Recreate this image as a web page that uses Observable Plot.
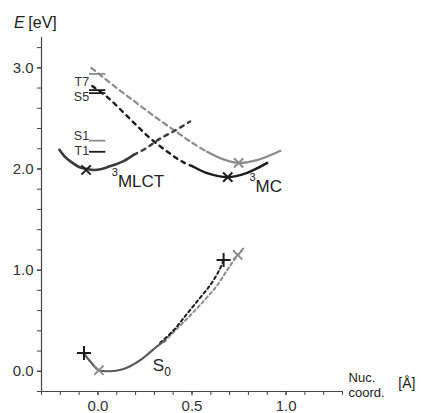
<!DOCTYPE html>
<html>
<head>
<meta charset="utf-8">
<script src="https://cdn.jsdelivr.net/npm/d3@7"></script>
<script src="https://cdn.jsdelivr.net/npm/@observablehq/plot@0.6"></script>
<style>
  html, body { margin: 0; padding: 0; background: #fff; }
  #chart { width: 421px; height: 413px; }
</style>
</head>
<body>
<div id="chart"></div>
<script>
// ---- data (x: nuclear coordinate in Å, y: energy in eV) ----
const yMajorTicks = [0, 1, 2, 3];
const yMinorTicks = [-0.2, 0, 0.2, 0.4, 0.6, 0.8, 1, 1.2, 1.4, 1.6, 1.8, 2, 2.2, 2.4, 2.6, 2.8, 3, 3.2];
const xMajorTicks = [0, 0.5, 1];
const xMinorTicks = [-0.3, -0.2, -0.1, 0, 0.1, 0.2, 0.3, 0.4, 0.5, 0.6, 0.7, 0.8, 0.9, 1, 1.1, 1.2, 1.3];

// 3MLCT surface
const mlctSolidX = [-0.205, -0.175, -0.143, -0.1, -0.06, -0.02, 0.02, 0.053, 0.1, 0.138, 0.19];
const mlctSolidY = [2.19, 2.12, 2.07, 2.02, 2.0, 1.99, 2.0, 2.02, 2.05, 2.08, 2.14];
const mlctDashX = [0.19, 0.26, 0.33, 0.41, 0.49];
const mlctDashY = [2.14, 2.21, 2.3, 2.38, 2.47];

// black path S5 -> 3MC
const blackDashX = [-0.03, 0.05, 0.13, 0.2, 0.28, 0.37, 0.45, 0.51];
const blackDashY = [2.82, 2.71, 2.57, 2.44, 2.3, 2.17, 2.07, 2.02];
const blackMcX = [0.51, 0.58, 0.69, 0.79, 0.9];
const blackMcY = [2.02, 1.96, 1.92, 1.96, 2.06];

// gray path T7 -> 3MC
const grayDashX = [-0.035, 0.1, 0.2, 0.3, 0.4, 0.5, 0.58];
const grayDashY = [3.0, 2.8, 2.66, 2.52, 2.39, 2.26, 2.17];
const grayMcX = [0.58, 0.66, 0.75, 0.85, 0.97];
const grayMcY = [2.17, 2.1, 2.06, 2.09, 2.18];

// S0 surface
const s0SolidX = [-0.074, -0.06, -0.037, -0.015, 0.005, 0.06, 0.11, 0.16, 0.24, 0.31, 0.36];
const s0SolidY = [0.18, 0.14, 0.09, 0.04, 0.01, 0.0, 0.01, 0.04, 0.13, 0.24, 0.31];
const s0BlackDashX = [0.33, 0.4, 0.47, 0.54, 0.6, 0.645, 0.668];
const s0BlackDashY = [0.28, 0.4, 0.56, 0.72, 0.86, 1.0, 1.1];
const s0GrayDashX = [0.35, 0.42, 0.5, 0.57, 0.63, 0.68, 0.72, 0.745, 0.78];
const s0GrayDashY = [0.29, 0.42, 0.57, 0.71, 0.84, 0.98, 1.09, 1.15, 1.23];

// vertical excitation levels at the Franck-Condon point
const levelNames = ["", "T7", "S5", "S1", "T1"];
const levelE = [2.94, 2.78, 2.75, 2.28, 2.17];
const levelTone = ["gray", "black", "black", "gray", "black"];
const levelLabelE = [null, 2.86, 2.71, 2.33, 2.175];

// minima / markers
const crossX = [-0.063, 0.69, 0.748, 0.005, 0.743];
const crossY = [1.99, 1.92, 2.06, 0.01, 1.15];
const crossTone = ["black", "black", "gray", "gray", "gray"];
const plusX = [-0.074, 0.668];
const plusY = [0.18, 1.10];

// ---- helpers ----
const pts = (xs, ys) => xs.map((x, i) => ({x, y: ys[i]}));
const BLACK = "#1c1c1c", GRAY = "#8c8c8c", DARK = "#3a3a3a", MID = "#5a5a5a";
const tone = t => t === "gray" ? GRAY : BLACK;

const levels = levelE.map((e, i) => ({name: levelNames[i], e, tone: levelTone[i], le: levelLabelE[i]}));
const crosses = crossX.map((x, i) => ({x, y: crossY[i], tone: crossTone[i]}));
const pluses = pts(plusX, plusY);

const font = "Liberation Sans, Arial, Helvetica, sans-serif";

const chart = Plot.plot({
  width: 421,
  height: 413,
  marginLeft: 41,
  marginRight: 79,
  marginTop: 37,
  marginBottom: 22,
  x: {domain: [-0.3, 1.3]},
  y: {domain: [-0.2, 3.3]},
  style: {fontFamily: font, fontSize: "15px", color: "#333", background: "#fff", overflow: "visible"},
  marks: [
    // axes
    Plot.ruleX([-0.3], {y1: -0.2, y2: 3.3, stroke: "#444", strokeWidth: 1.2}),
    Plot.ruleY([-0.2], {x1: -0.3, x2: 1.3, stroke: "#444", strokeWidth: 1.2}),
    Plot.axisY(yMinorTicks, {tickSize: 4, tickFormat: () => "", label: null, stroke: "#444"}),
    Plot.axisY(yMajorTicks, {tickSize: 4, tickPadding: 4, tickFormat: d => d.toFixed(1), label: null, fontSize: 15, fill: "#333"}),
    Plot.axisX(xMinorTicks, {tickSize: 4, tickFormat: () => "", label: null, stroke: "#444"}),
    Plot.axisX(xMajorTicks, {tickSize: 4, tickPadding: 5, tickFormat: d => d.toFixed(1), label: null, fontSize: 15, fill: "#333"}),

    // level bars
    Plot.ruleY(levels, {y: "e", x1: -0.045, x2: 0.042, stroke: d => tone(d.tone), strokeWidth: 1.8}),
    Plot.text(levels.filter(d => d.name), {x: -0.047, y: "le", text: "name", textAnchor: "end", fontSize: 12.5, fill: "#333"}),

    // S0 surface
    Plot.line(pts(s0GrayDashX, s0GrayDashY), {x: "x", y: "y", curve: "catmull-rom", stroke: GRAY, strokeWidth: 2, strokeDasharray: "3,3"}),
    Plot.line(pts(s0BlackDashX, s0BlackDashY), {x: "x", y: "y", curve: "catmull-rom", stroke: BLACK, strokeWidth: 2, strokeDasharray: "3,3"}),
    Plot.line(pts(s0SolidX, s0SolidY), {x: "x", y: "y", curve: "catmull-rom", stroke: MID, strokeWidth: 2.2}),

    // upper surfaces
    Plot.line(pts(grayDashX, grayDashY), {x: "x", y: "y", curve: "catmull-rom", stroke: GRAY, strokeWidth: 2.2, strokeDasharray: "5,4"}),
    Plot.line(pts(grayMcX, grayMcY), {x: "x", y: "y", curve: "catmull-rom", stroke: GRAY, strokeWidth: 2.2}),
    Plot.line(pts(blackDashX, blackDashY), {x: "x", y: "y", curve: "catmull-rom", stroke: BLACK, strokeWidth: 2.4, strokeDasharray: "4,5"}),
    Plot.line(pts(blackMcX, blackMcY), {x: "x", y: "y", curve: "catmull-rom", stroke: BLACK, strokeWidth: 2.4}),
    Plot.line(pts(mlctDashX, mlctDashY), {x: "x", y: "y", curve: "catmull-rom", stroke: DARK, strokeWidth: 2.4, strokeDasharray: "4,5"}),
    Plot.line(pts(mlctSolidX, mlctSolidY), {x: "x", y: "y", curve: "catmull-rom", stroke: DARK, strokeWidth: 2.6}),

    // markers
    Plot.dot(crosses, {x: "x", y: "y", symbol: "times", r: 4.3, stroke: d => tone(d.tone), strokeWidth: 2}),
    Plot.dot(pluses, {x: "x", y: "y", symbol: "plus", r: 4.6, stroke: BLACK, strokeWidth: 2}),

    // state labels
    Plot.text(["MLCT"], {x: 0.106, y: 1.88, text: d => d, textAnchor: "start", fontSize: 17, fill: "#222"}),
    Plot.text(["3"], {x: 0.106, y: 1.965, text: d => d, textAnchor: "end", fontSize: 11, fill: "#222"}),
    Plot.text(["MC"], {x: 0.838, y: 1.83, text: d => d, textAnchor: "start", fontSize: 17, fill: "#222"}),
    Plot.text(["3"], {x: 0.838, y: 1.915, text: d => d, textAnchor: "end", fontSize: 11, fill: "#222"}),
    Plot.text(["S"], {x: 0.292, y: 0.06, text: d => d, textAnchor: "start", fontSize: 17, fill: "#222"}),
    Plot.text(["0"], {x: 0.352, y: -0.01, text: d => d, textAnchor: "start", fontSize: 12, fill: "#222"}),

    // axis titles
    Plot.text(["E"], {x: -0.446, y: 3.446, text: d => d, textAnchor: "start", fontSize: 16, fontStyle: "italic", fill: "#222"}),
    Plot.text(["[eV]"], {x: -0.37, y: 3.446, text: d => d, textAnchor: "start", fontSize: 16, fill: "#222"}),
    Plot.text(["Nuc."], {x: 1.332, y: -0.069, text: d => d, textAnchor: "start", fontSize: 13, fill: "#222"}),
    Plot.text(["coord."], {x: 1.332, y: -0.212, text: d => d, textAnchor: "start", fontSize: 13, fill: "#222"}),
    Plot.text(["[Å]"], {x: 1.597, y: -0.12, text: d => d, textAnchor: "start", fontSize: 14, fill: "#222"})
  ]
});

document.getElementById("chart").appendChild(chart);
</script>
</body>
</html>
